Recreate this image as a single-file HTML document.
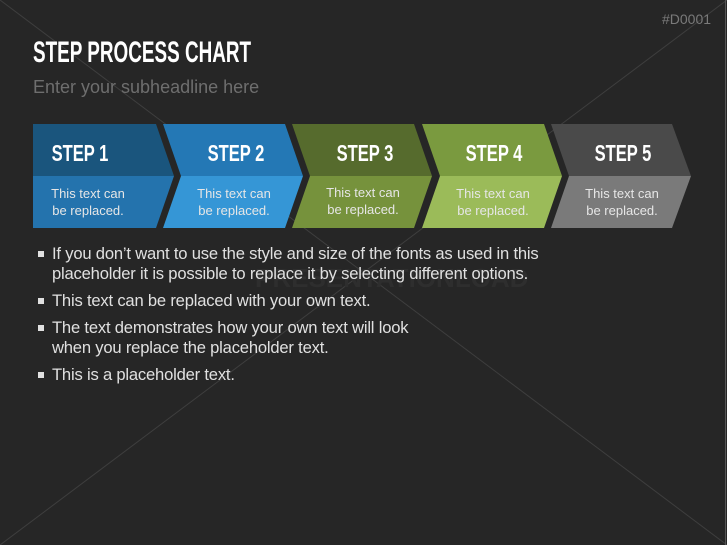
<!DOCTYPE html>
<html><head><meta charset="utf-8"><style>
body{margin:0;width:727px;height:545px;background:#262626;overflow:hidden;position:relative;font-family:"Liberation Sans",sans-serif}
.abs{position:absolute}
.title{left:33px;top:36px;font-size:30px;font-weight:bold;color:#fff;transform:scaleX(0.63);transform-origin:left top;white-space:nowrap}
.sub{left:33px;top:77px;font-size:18px;color:#6e6e6e;white-space:nowrap}
.code{left:662px;top:11px;font-size:14px;color:#7a7a7a}
.st{font-size:23px;font-weight:bold;fill:#fff}
.bt{font-size:13px;fill:#e6e6e6}
ul{position:absolute;left:38px;top:244px;margin:0;padding:0;list-style:none;color:#e0e0e0;font-size:16.6px;line-height:20px;letter-spacing:-0.2px}
li{position:relative;padding-left:14px;margin-bottom:7px;white-space:nowrap}
li:before{content:"";position:absolute;left:0;top:7px;width:6px;height:6px;background:#e0e0e0}
</style></head><body>
<svg class="abs" style="left:0;top:0" width="727" height="545">
<line x1="0" y1="0" x2="727" y2="545" stroke="#3e3e3e" stroke-width="1"/>
<line x1="727" y1="0" x2="0" y2="545" stroke="#3e3e3e" stroke-width="1"/>
<line x1="725.5" y1="0" x2="725.5" y2="545" stroke="#555" stroke-width="1"/>
<text x="255" y="287" font-size="26" font-weight="bold" fill="#2e2e2e" font-family="Liberation Sans">PRESENTATIONLOAD</text>
<g font-family="Liberation Sans">
<polygon points="33,124 156,124 174,176 33,176" fill="#1a557d"/>
<polygon points="33,176 174,176 156,228 33,228" fill="#2473ad"/>
<polygon points="163,124 285,124 303,176 181,176" fill="#2478b5"/>
<polygon points="181,176 303,176 285,228 163,228" fill="#3596d6"/>
<polygon points="292,124 414,124 432,176 310,176" fill="#566b2d"/>
<polygon points="310,176 432,176 414,228 292,228" fill="#76923c"/>
<polygon points="422,124 544,124 562,176 440,176" fill="#7a9a3f"/>
<polygon points="440,176 562,176 544,228 422,228" fill="#9bbb59"/>
<polygon points="551,124 672,124 691,176 569,176" fill="#4a4a4a"/>
<polygon points="569,176 691,176 672,228 551,228" fill="#7a7a7a"/>
<g class="st" text-anchor="middle">
<text x="80" y="161" transform="translate(80,0) scale(0.72,1) translate(-80,0)">STEP 1</text>
<text x="236" y="161" transform="translate(236,0) scale(0.72,1) translate(-236,0)">STEP 2</text>
<text x="365" y="161" transform="translate(365,0) scale(0.72,1) translate(-365,0)">STEP 3</text>
<text x="494" y="161" transform="translate(494,0) scale(0.72,1) translate(-494,0)">STEP 4</text>
<text x="623" y="161" transform="translate(623,0) scale(0.72,1) translate(-623,0)">STEP 5</text>
</g>
<g class="bt" text-anchor="middle">
<text x="88" y="198">This text can</text><text x="88" y="215">be replaced.</text>
<text x="234" y="198">This text can</text><text x="234" y="215">be replaced.</text>
<text x="363" y="197">This text can</text><text x="363" y="214">be replaced.</text>
<text x="493" y="198">This text can</text><text x="493" y="215">be replaced.</text>
<text x="622" y="198">This text can</text><text x="622" y="215">be replaced.</text>
</g></g>
</svg>
<div class="abs title">STEP PROCESS CHART</div>
<div class="abs sub">Enter your subheadline here</div>
<div class="abs code">#D0001</div>
<ul>
<li>If you don’t want to use the style and size of the fonts as used in this<br>placeholder it is possible to replace it by selecting different options.</li>
<li>This text can be replaced with your own text.</li>
<li>The text demonstrates how your own text will look<br>when you replace the placeholder text.</li>
<li>This is a placeholder text.</li>
</ul>
</body></html>
